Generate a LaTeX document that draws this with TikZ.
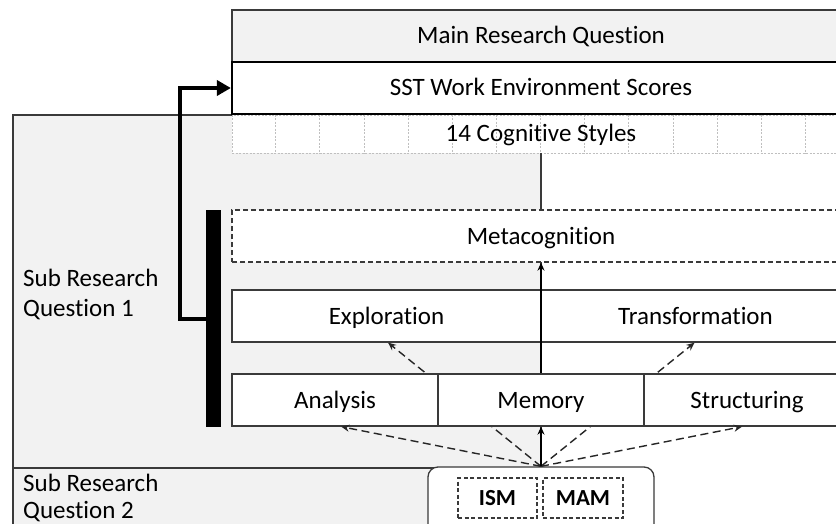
\documentclass[tikz,border=0pt]{standalone}
\usepackage{fontspec}
\setmainfont{Carlito}[Ligatures=NoCommon]
\usetikzlibrary{arrows.meta,calc}
\definecolor{lgray}{HTML}{F2F2F2}
\definecolor{edge}{HTML}{3A3A3A}
\definecolor{dotc}{HTML}{BFBFBF}
\pgfdeclarelayer{bg}
\pgfdeclarelayer{behind}
\pgfsetlayers{bg,behind,main}
\begin{document}
\begin{tikzpicture}[x=1pt,y=-1pt,
  bigfont/.style={font=\fontsize{25}{30}\selectfont},
  lbl/.style={bigfont, inner sep=0pt, anchor=base west},
  region/.style={draw=edge, line width=1.2pt, fill=lgray, inner sep=0pt},
  box/.style={draw=edge, line width=1.3pt, fill=white, inner sep=0pt, minimum height=52pt, text height=16pt, text depth=0pt, bigfont},
  dbox/.style={box, dash pattern=on 5pt off 3pt},
  smallbox/.style={draw=edge, line width=1.2pt, dash pattern=on 4pt off 2.5pt, inner sep=0pt, minimum height=40pt, text height=15pt, text depth=0pt, font=\fontsize{23}{28}\selectfont\bfseries},
  dotline/.style={draw=dotc, line width=0.8pt, dash pattern=on 2pt off 1.5pt},
  darr/.style={draw=black!85, line width=1.4pt, dash pattern=on 8pt off 4.5pt, -{Stealth[length=8pt,width=7pt]}},
  sarr/.style={draw=black, line width=1.2pt, -{Stealth[length=8pt,width=7pt]}},
  thickarr/.style={draw=black, line width=4pt, line join=miter, -{Triangle[length=14pt,width=15pt]}}
]
\useasboundingbox (0,0) rectangle (836,524);
\clip (0,0) rectangle (836,524);

% regions
\begin{pgfonlayer}{bg}
\node[region, minimum width=528pt, minimum height=353pt] (sub1) at (277,291.5) {};
\node[region, minimum width=528pt, minimum height=72pt] (sub2) at (277,504) {};
\end{pgfonlayer}

\node[lbl] (s1a) at (23,286) {Sub Research};
\node[lbl] (s1b) at (23,316) {Question 1};
\node[lbl] (s2a) at (23,491) {Sub Research};
\node[lbl] (s2b) at (23,518) {Question 2};

% top boxes
\node[box, fill=lgray, minimum width=618pt] (main) at (541,36) {Main Research Question};
\node[box, draw=black, line width=2.2pt, minimum width=618pt] (sst) at (541,88) {SST Work Environment Scores};
\node[dotline, fill=white, inner sep=0pt, minimum width=618pt, minimum height=38pt] (cog) at (541,134) {};
\foreach \i in {1,...,13}
  \draw[dotline] ($(cog.north west)+(\i*44.143,0)$) -- ($(cog.south west)+(\i*44.143,0)$);
\node[bigfont, inner sep=0pt, text height=16pt, text depth=0pt] (cogt) at (cog.center) {14 Cognitive Styles};

% metacognition and style boxes
\node[dbox, minimum width=618pt] (meta) at (541,236) {Metacognition};
\node[box, minimum width=309pt] (expl) at (386.5,316) {Exploration};
\node[box, minimum width=309pt] (trans) at (695.5,316) {Transformation};
\node[box, minimum width=206pt] (ana) at (335,400) {Analysis};
\node[box, minimum width=206pt] (mem) at (541,400) {Memory};
\node[box, minimum width=206pt] (struc) at (747,400) {Structuring};

% source box
\node[draw=edge, line width=1.3pt, fill=white, rounded corners=10pt, inner sep=0pt, minimum width=226pt, minimum height=73pt] (src) at (541,503.5) {};
\node[smallbox, minimum width=79pt] (ism) at (497.5,498) {ISM};
\node[smallbox, minimum width=80pt] (mam) at (583,498) {MAM};

% black bar
\node[fill=black, inner sep=0pt, minimum width=15pt, minimum height=217pt] (bar) at (213.5,318.5) {};

% connectors
\draw[edge, line width=1.2pt] (cog.south) -- (meta.north);
\begin{pgfonlayer}{behind}
\draw[darr] (src.north) -- ($(expl.south west)!0.505!(expl.south east)$);
\draw[darr] (src.north) -- ($(trans.south west)!0.497!(trans.south east)$);
\end{pgfonlayer}
\draw[darr] (src.north) -- ($(ana.south west)!0.53!(ana.south east)$);
\draw[darr] (src.north) -- ($(struc.south west)!0.476!(struc.south east)$);
\draw[sarr] (src.north) -- (mem.south);
\draw[sarr] (mem.north) -- (meta.south);
\draw[thickarr] (bar.west) -- ++(-26,0) |- (sst.west);
\end{tikzpicture}
\end{document}
